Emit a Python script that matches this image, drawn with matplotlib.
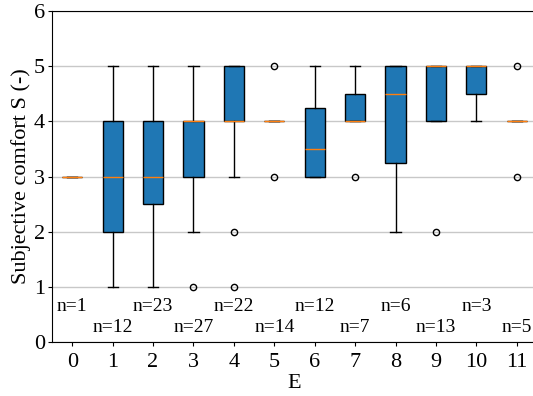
import matplotlib
matplotlib.use("Agg")
import matplotlib.pyplot as plt

categories = list(range(12))
counts = [1, 12, 23, 27, 22, 14, 12, 7, 6, 13, 3, 5]
q1 = [3, 2, 2.5, 3, 4, 4, 3, 4, 3.25, 4, 4.5, 4]
med = [3, 3, 3, 4, 4, 4, 3.5, 4, 4.5, 5, 5, 4]
q3 = [3, 4, 4, 4, 5, 4, 4.25, 4.5, 5, 5, 5, 4]
whislo = [3, 1, 1, 2, 3, 4, 3, 4, 2, 4, 4, 4]
whishi = [3, 5, 5, 5, 5, 4, 5, 5, 5, 5, 5, 4]
fliers = [[], [], [], [1], [2, 1], [5, 3], [], [3], [], [2], [], [5, 3]]

plt.rcParams['font.family'] = ['Liberation Serif', 'DejaVu Serif']

fig = plt.figure(figsize=(5.33, 3.96), dpi=100)
ax = fig.add_axes([52/533, 54/396, 485/533, 331/396])

stats = []
for i in range(len(categories)):
    stats.append(dict(q1=q1[i], med=med[i], q3=q3[i], whislo=whislo[i],
                      whishi=whishi[i], fliers=fliers[i], label=str(categories[i])))

ax.bxp(stats, positions=categories, widths=0.5, patch_artist=True,
       boxprops=dict(facecolor='#1f77b4', edgecolor='black', linewidth=1),
       medianprops=dict(color='#ff7f0e', linewidth=1),
       whiskerprops=dict(color='black', linewidth=1),
       capprops=dict(color='black', linewidth=1),
       flierprops=dict(marker='o', markersize=4.5, markerfacecolor='none',
                       markeredgecolor='black', markeredgewidth=1))

for i, n in enumerate(counts):
    y = 0.65 if i % 2 == 0 else 0.27
    ax.text(categories[i], y, f"n={n}", ha='center', va='center', fontsize=14)

ax.set_xlim(-0.5, 11.5)
ax.set_ylim(0, 6)
ax.set_yticks(range(7))
ax.set_xticks(categories)
ax.set_xticklabels([str(c) for c in categories])
ax.tick_params(labelsize=16, length=3)
ax.tick_params(axis='y', pad=2)
ax.tick_params(axis='x', pad=5)
ax.set_xlabel("E", fontsize=16, labelpad=1)
ax.set_ylabel("Subjective comfort S (-)", fontsize=16, labelpad=2)
ax.yaxis.grid(True, color='#c8c8c8', linewidth=1)
ax.set_axisbelow(True)

fig.savefig("out.png", dpi=100)
